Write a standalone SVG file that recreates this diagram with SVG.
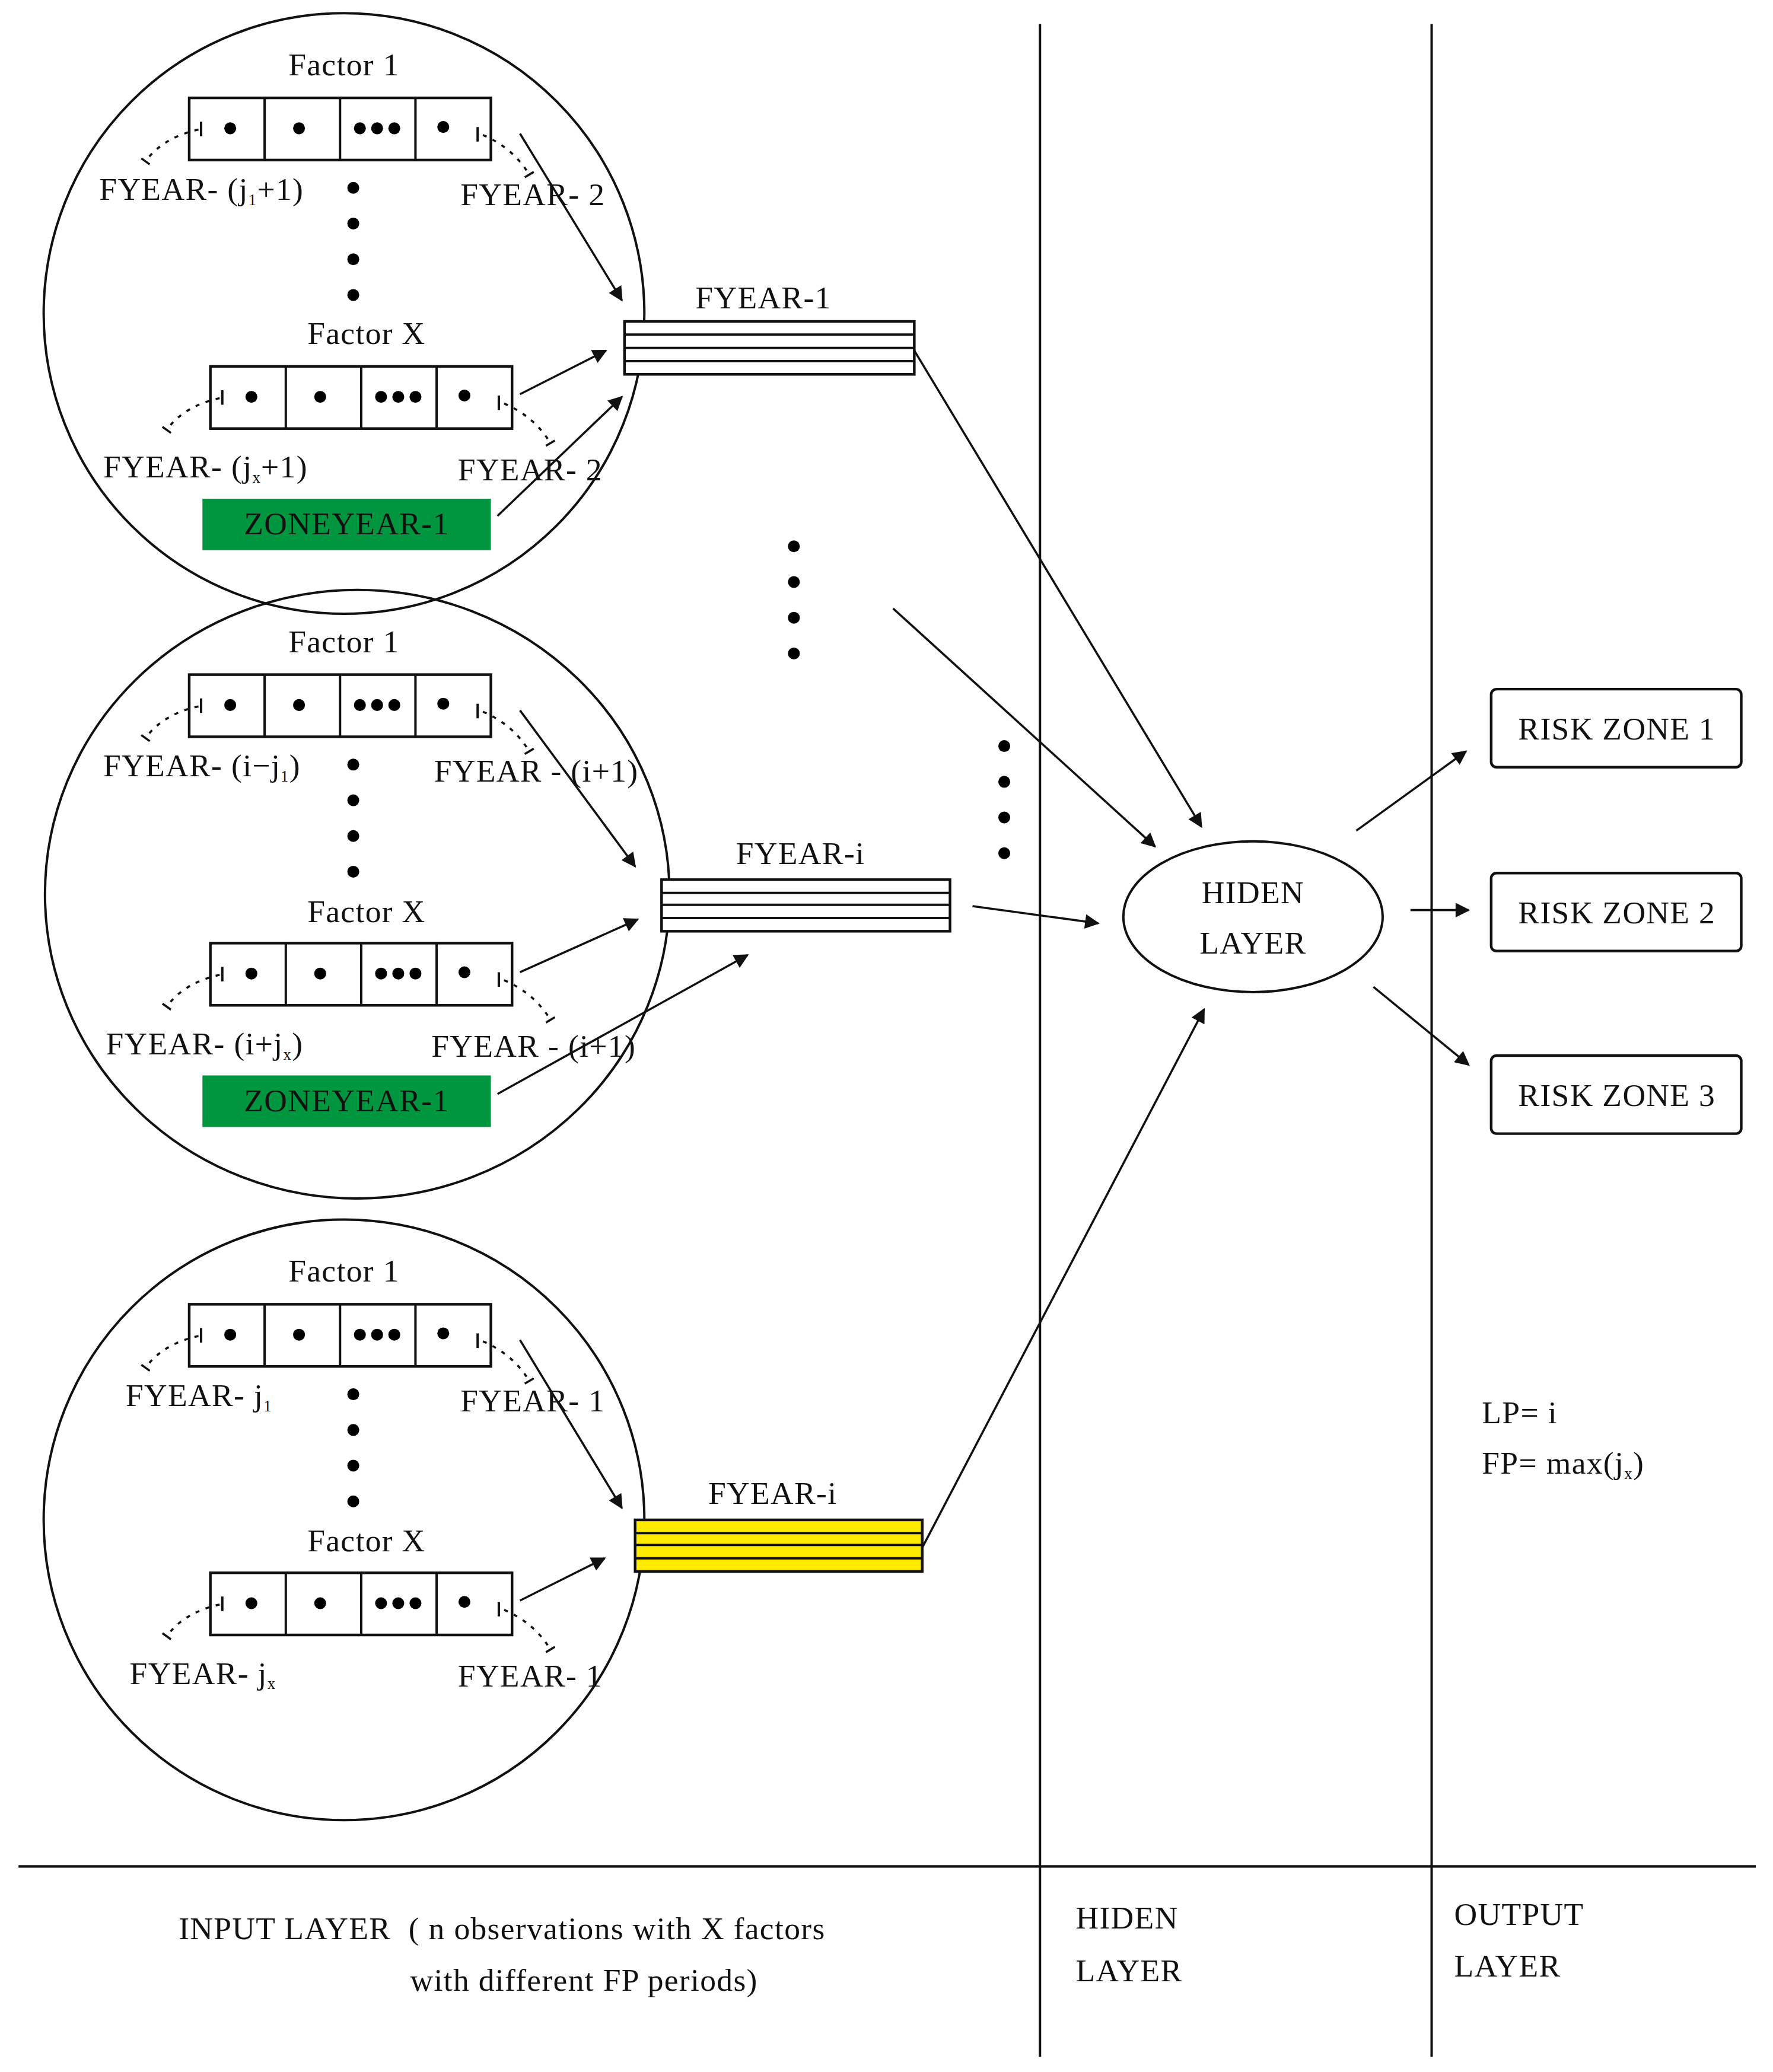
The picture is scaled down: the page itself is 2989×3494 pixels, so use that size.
<svg xmlns="http://www.w3.org/2000/svg" width="2989" height="3494" viewBox="0 0 2989 3494">
<style>
text{font-family:"Liberation Serif",serif;font-size:24px;letter-spacing:0.6px;fill:#111;white-space:pre}
.c{text-anchor:middle}
.ln{stroke:#111;stroke-width:1.8;fill:none}
.bx{stroke:#111;stroke-width:2;fill:#fff}
.dt{stroke:#111;stroke-width:1.6;fill:none;stroke-dasharray:3 5}
.ar{stroke:#111;stroke-width:1.6;fill:none;marker-end:url(#ah)}
</style>
<defs>
<marker id="ah" viewBox="0 0 10 10" refX="9" refY="5" markerWidth="14" markerHeight="11" markerUnits="userSpaceOnUse" orient="auto"><path d="M0,0L10,5L0,10z" fill="#111"/></marker>
<marker id="tk" viewBox="0 0 10 10" refX="5" refY="5" markerWidth="8" markerHeight="8" markerUnits="userSpaceOnUse" orient="auto"><path d="M5,0L5,10" stroke="#111" stroke-width="2"/></marker>
<g id="fbox">
<rect class="bx" x="0" y="0" width="228" height="47"/>
<path class="ln" d="M57,0V47M114,0V47M171,0V47"/>
<path class="ln" d="M9,18V29M218,22V33"/>
<circle cx="31" cy="23" r="4.5"/><circle cx="83" cy="23" r="4.5"/>
<circle cx="129" cy="23" r="4.5"/><circle cx="142" cy="23" r="4.5"/><circle cx="155" cy="23" r="4.5"/>
<circle cx="192" cy="22" r="4.5"/>
<path class="dt" d="M7,24Q-20,30-33,48" marker-end="url(#tk)"/>
<path class="dt" d="M222,28Q245,38,257,58" marker-end="url(#tk)"/>
</g>
<g id="vdots"><circle cx="0" cy="0" r="4.5"/><circle cx="0" cy="27" r="4.5"/><circle cx="0" cy="54" r="4.5"/><circle cx="0" cy="81" r="4.5"/></g>
</defs>
<rect width="2989" height="3494" fill="#fff"/>
<g transform="scale(2.2306)">
<g id="layout">
<path class="ln" d="M786,18V1555M1082,18V1555M14,1411H1327"/>
</g>
<g id="circle1">
<ellipse class="ln" cx="260" cy="237" rx="227" ry="227"/>
<text class="c" x="260" y="57">Factor 1</text>
<use href="#fbox" x="143" y="74"/>
<text x="75" y="151">FYEAR- (j<tspan font-size="12" dy="4">1</tspan><tspan dy="-4">+1)</tspan></text>
<text x="348" y="155">FYEAR- 2</text>
<use href="#vdots" x="267" y="142"/>
<text class="c" x="277" y="260">Factor X</text>
<use href="#fbox" x="159" y="277"/>
<text x="78" y="361">FYEAR- (j<tspan font-size="12" dy="4">x</tspan><tspan dy="-4">+1)</tspan></text>
<text x="346" y="363">FYEAR- 2</text>
<rect x="153" y="377" width="218" height="39" fill="#00963f"/>
<text class="c" x="262" y="404">ZONEYEAR-1</text>
</g>
<g id="circle2">
<ellipse class="ln" cx="270" cy="676" rx="236" ry="230"/>
<text class="c" x="260" y="493">Factor 1</text>
<use href="#fbox" x="143" y="510"/>
<text x="78" y="587">FYEAR- (i−j<tspan font-size="12" dy="4">1</tspan><tspan dy="-4">)</tspan></text>
<text x="328" y="591">FYEAR - (i+1)</text>
<use href="#vdots" x="267" y="578"/>
<text class="c" x="277" y="697">Factor X</text>
<use href="#fbox" x="159" y="713"/>
<text x="80" y="797">FYEAR- (i+j<tspan font-size="12" dy="4">x</tspan><tspan dy="-4">)</tspan></text>
<text x="326" y="799">FYEAR - (i+1)</text>
<rect x="153" y="813" width="218" height="39" fill="#00963f"/>
<text class="c" x="262" y="840">ZONEYEAR-1</text>
</g>
<g id="circle3">
<ellipse class="ln" cx="260" cy="1149" rx="227" ry="227"/>
<text class="c" x="260" y="969">Factor 1</text>
<use href="#fbox" x="143" y="986"/>
<text x="95" y="1063">FYEAR- j<tspan font-size="12" dy="4">1</tspan></text>
<text x="348" y="1067">FYEAR- 1</text>
<use href="#vdots" x="267" y="1054"/>
<text class="c" x="277" y="1173">Factor X</text>
<use href="#fbox" x="159" y="1189"/>
<text x="98" y="1273">FYEAR- j<tspan font-size="12" dy="4">x</tspan></text>
<text x="346" y="1275">FYEAR- 1</text>
</g>
<g id="fyear1">
<text class="c" x="577" y="233">FYEAR-1</text>
<rect class="bx" x="472" y="243" width="219" height="40" fill="none"/>
<path class="ln" d="M472,253H691M472,263H691M472,273H691"/>
</g>
<g id="fyeari">
<text class="c" x="605" y="653">FYEAR-i</text>
<rect class="bx" x="500" y="665" width="218" height="39" fill="none"/>
<path class="ln" d="M500,675H718M500,684H718M500,694H718"/>
</g>
<g id="fyeari2">
<text class="c" x="584" y="1137">FYEAR-i</text>
<rect x="480" y="1149" width="217" height="39" fill="#ffea00" stroke="#111" stroke-width="2"/>
<path class="ln" d="M480,1159H697M480,1168H697M480,1178H697"/>
</g>
<g id="dots">
<use href="#vdots" x="600" y="413"/>
<use href="#vdots" x="759" y="564"/>
</g>
<g id="hidden">
<ellipse class="ln" cx="947" cy="693" rx="98" ry="57"/>
<text class="c" x="947" y="683">HIDEN</text>
<text class="c" x="947" y="721">LAYER</text>
</g>
<g id="risk1"><rect class="bx" x="1127" y="521" width="189" height="59" rx="4"/><text class="c" x="1222" y="559">RISK ZONE 1</text></g>
<g id="risk2"><rect class="bx" x="1127" y="660" width="189" height="59" rx="4"/><text class="c" x="1222" y="698">RISK ZONE 2</text></g>
<g id="risk3"><rect class="bx" x="1127" y="798" width="189" height="59" rx="4"/><text class="c" x="1222" y="836">RISK ZONE 3</text></g>
<g id="notes">
<text x="1120" y="1076">LP= i</text>
<text x="1120" y="1114">FP= max(j<tspan font-size="12" dy="4">x</tspan><tspan dy="-4">)</tspan></text>
<text x="135" y="1466">INPUT LAYER  ( n observations with X factors</text>
<text x="310" y="1505">with different FP periods)</text>
<text x="813" y="1458">HIDEN</text>
<text x="813" y="1498">LAYER</text>
<text x="1099" y="1455">OUTPUT</text>
<text x="1099" y="1494">LAYER</text>
</g>
<g id="connectors">
<path class="ar" d="M393,101L470,227"/>
<path class="ar" d="M393,298L458,265"/>
<path class="ar" d="M376,390L470,300"/>
<path class="ar" d="M691,265L908,625"/>
<path class="ar" d="M675,460L873,640"/>
<path class="ar" d="M393,537L480,655"/>
<path class="ar" d="M393,735L482,695"/>
<path class="ar" d="M376,827L565,722"/>
<path class="ar" d="M735,685L830,698"/>
<path class="ar" d="M393,1013L470,1140"/>
<path class="ar" d="M393,1210L457,1178"/>
<path class="ar" d="M697,1170L910,763"/>
<path class="ar" d="M1025,628L1108,568"/>
<path class="ar" d="M1066,688L1110,688"/>
<path class="ar" d="M1038,746L1110,805"/>
</g>
</g>
</svg>
